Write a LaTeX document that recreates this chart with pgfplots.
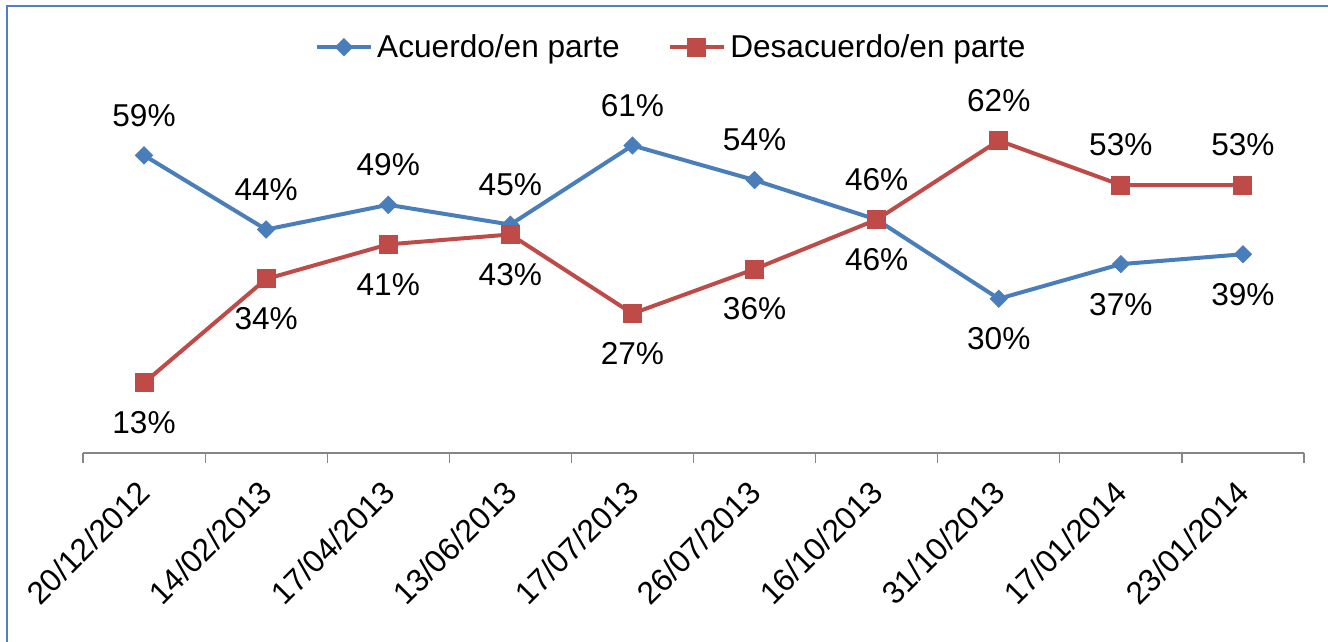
\documentclass[border=0pt]{standalone}
\usepackage{pgfplots}
\pgfplotsset{compat=1.18}
\usepackage{pgfplotstable}
\usepackage{fontspec}
\setmainfont{Liberation Sans}
\definecolor{cblue}{HTML}{4A7EBB}
\definecolor{cred}{HTML}{BE4B48}
\definecolor{frame}{HTML}{4F81BD}
\definecolor{axgray}{HTML}{868686}
\pgfplotstableread{
x A Apos D Dpos
0 59 1 13 -1
1 44 1 34 -1
2 49 1 41 -1
3 45 1 43 -1
4 61 1 27 -1
5 54 1 36 -1
6 46 1 46 -1
7 30 -1 62 1
8 37 -1 53 1
9 39 -1 53 1
}\datatable
\begin{document}
\begin{tikzpicture}
\useasboundingbox (0,0) rectangle (664pt,321pt);
\draw[frame, line width=1pt] (3.5pt,0) -- (3.5pt,318pt) -- (664pt,318pt);
\begin{axis}[
  at={(41.5pt,94.5pt)}, anchor=south west,
  scale only axis, width=610.5pt, height=176pt,
  xmin=-0.5, xmax=9.5, ymin=-1.2, ymax=70,
  axis x line*=bottom, hide y axis,
  axis line style={axgray, line width=0.6pt},
  xtick={0,...,9},
  xticklabels={20/12/2012,14/02/2013,17/04/2013,13/06/2013,17/07/2013,26/07/2013,16/10/2013,31/10/2013,17/01/2014,23/01/2014},
  major tick length=0pt,
  minor xtick={-0.5,0.5,...,9.5},
  minor tick length=5pt,
  tick align=outside,
  tick style={axgray, line width=0.6pt},
  xticklabel style={font=\fontsize{15.8}{18}\selectfont, yshift=-12.5pt, xshift=-4pt, rotate=45, anchor=north east, inner sep=0pt},
  /pgf/number format/assume math mode=true,
  nodes near coords={\pgfmathprintnumber{\pgfplotspointmeta}\%},
  every node near coord/.append style={font=\fontsize{15.8}{18}\selectfont, text=black, anchor=center, yshift=\lpos*20pt},
  legend columns=2,
  legend style={at={(0.4824,1.153)}, anchor=center, draw=none, fill=none,
    font=\fontsize{15.8}{18}\selectfont, /tikz/every even column/.append style={column sep=22pt}},
  legend image code/.code={\draw[mark repeat=2,mark phase=2] plot coordinates {(0cm,0cm)(0.48cm,0cm)(0.96cm,0cm)};},
]
\addplot[cblue, line width=2pt, mark=square*, mark size=3pt, mark options={rotate=45, line width=0.5pt},
  visualization depends on={\thisrow{Apos} \as \lpos}] table[x=x, y=A] {\datatable};
\addlegendentry{Acuerdo/en parte}
\addplot[cred, line width=2pt, mark=square*, mark size=4.5pt, mark options={line width=0.5pt},
  visualization depends on={\thisrow{Dpos} \as \lpos}] table[x=x, y=D] {\datatable};
\addlegendentry{Desacuerdo/en parte}
\end{axis}
\end{tikzpicture}
\end{document}
